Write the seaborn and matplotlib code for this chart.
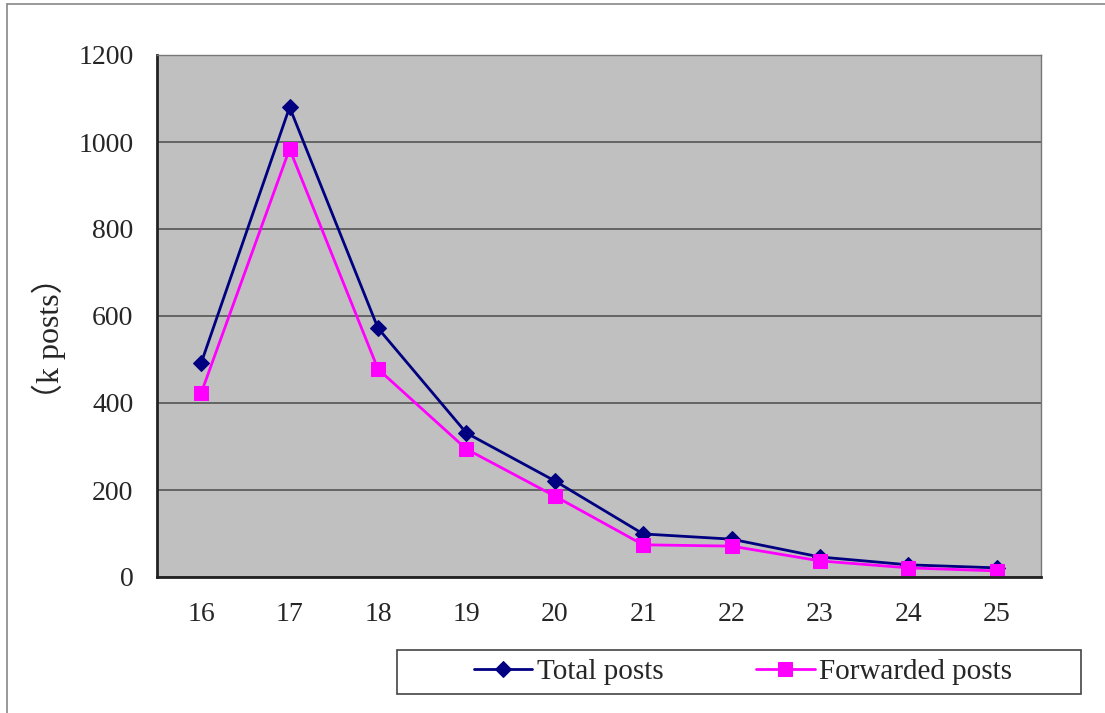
import matplotlib
matplotlib.use("Agg")
import matplotlib.pyplot as plt
import seaborn as sns
import pandas as pd
from matplotlib.patches import Rectangle
from matplotlib.lines import Line2D
from matplotlib.ticker import MultipleLocator, FixedLocator

# Hourly post counts (thousands)
hours = [16, 17, 18, 19, 20, 21, 22, 23, 24, 25]
total_posts = [492, 1080, 572, 331, 221, 99, 87, 46, 28, 21]
forwarded_posts = [423, 984, 478, 294, 186, 74, 71, 37, 21, 14]
series_names = ["Total posts", "Forwarded posts"]
y_label = "（k posts）"

sns.set_style("white")
plt.rcParams["font.family"] = ["Liberation Serif", "Noto Sans CJK SC", "DejaVu Sans"]

df = pd.DataFrame({
    "hour": hours * 2,
    "posts": total_posts + forwarded_posts,
    "series": [series_names[0]] * len(hours) + [series_names[1]] * len(hours),
})

W, H = 1105, 713
fig = plt.figure(figsize=(W / 100, H / 100), dpi=100)
ax = fig.add_axes([157 / W, 1 - 577 / H, (1041 - 157) / W, (577 - 55) / H])
ax.set_facecolor("#c0c0c0")

palette = {series_names[0]: "#000080", series_names[1]: "#ff00ff"}
markers = {series_names[0]: "D", series_names[1]: "s"}
sizes = {series_names[0]: 8, series_names[1]: 10}

for name in series_names:
    sub = df[df["series"] == name]
    sns.lineplot(data=sub, x="hour", y="posts", ax=ax, color=palette[name],
                 marker=markers[name], markersize=sizes[name],
                 markeredgecolor=palette[name], linewidth=2, label=name,
                 legend=False)

ax.set_xlim(15.5, 25.5)
ax.set_ylim(0, 1200)
ax.yaxis.set_major_locator(MultipleLocator(200))
ax.xaxis.set_major_locator(FixedLocator(hours))
ax.xaxis.set_minor_locator(FixedLocator([h + 0.5 for h in hours[:-1]]))
ax.set_xticklabels([str(h) for h in hours])

ax.grid(axis="y", color="#555555", linewidth=1.2)
ax.set_axisbelow(True)

ax.tick_params(axis="x", which="major", length=0, labelsize=20, pad=18)
ax.tick_params(axis="x", which="minor", direction="in", length=8, width=1, color="#555555")
ax.tick_params(axis="y", which="major", direction="out", length=5, width=1,
               color="#333333", labelsize=20, pad=12)

for side in ["left", "bottom"]:
    ax.spines[side].set_color("#222222")
    ax.spines[side].set_linewidth(2)
for side in ["right", "top"]:
    ax.spines[side].set_color("#777777")
    ax.spines[side].set_linewidth(1)

ax.set_xlabel("")
ax.set_ylabel(y_label, fontsize=23)
ax.yaxis.set_label_coords((66 - 157) / (1041 - 157), (577 - 338) / (577 - 55))

# Legend entries spread across a framed strip below the plot
handles, labels = ax.get_legend_handles_labels()
leg = fig.legend(handles, labels, loc="center", mode="expand",
                 bbox_to_anchor=(474 / W, 1 - 694 / H, (1012 - 474) / W, 44 / H),
                 ncol=2, frameon=False, fontsize=21, borderpad=0,
                 handlelength=2.0, handletextpad=0.15, borderaxespad=0)
fig.patches.append(Rectangle((397 / W, 1 - 694 / H), (1081 - 397) / W, 44 / H,
                             transform=fig.transFigure, fill=False,
                             edgecolor="#444444", linewidth=1.2))

# Outer chart frame (top and left edges)
fig.lines.append(Line2D([7 / W, 1.0], [1 - 4 / H, 1 - 4 / H], transform=fig.transFigure,
                        color="#888888", linewidth=1.2))
fig.lines.append(Line2D([7 / W, 7 / W], [0.0, 1 - 4 / H], transform=fig.transFigure,
                        color="#888888", linewidth=1.2))

fig.savefig("out.png", dpi=100)
